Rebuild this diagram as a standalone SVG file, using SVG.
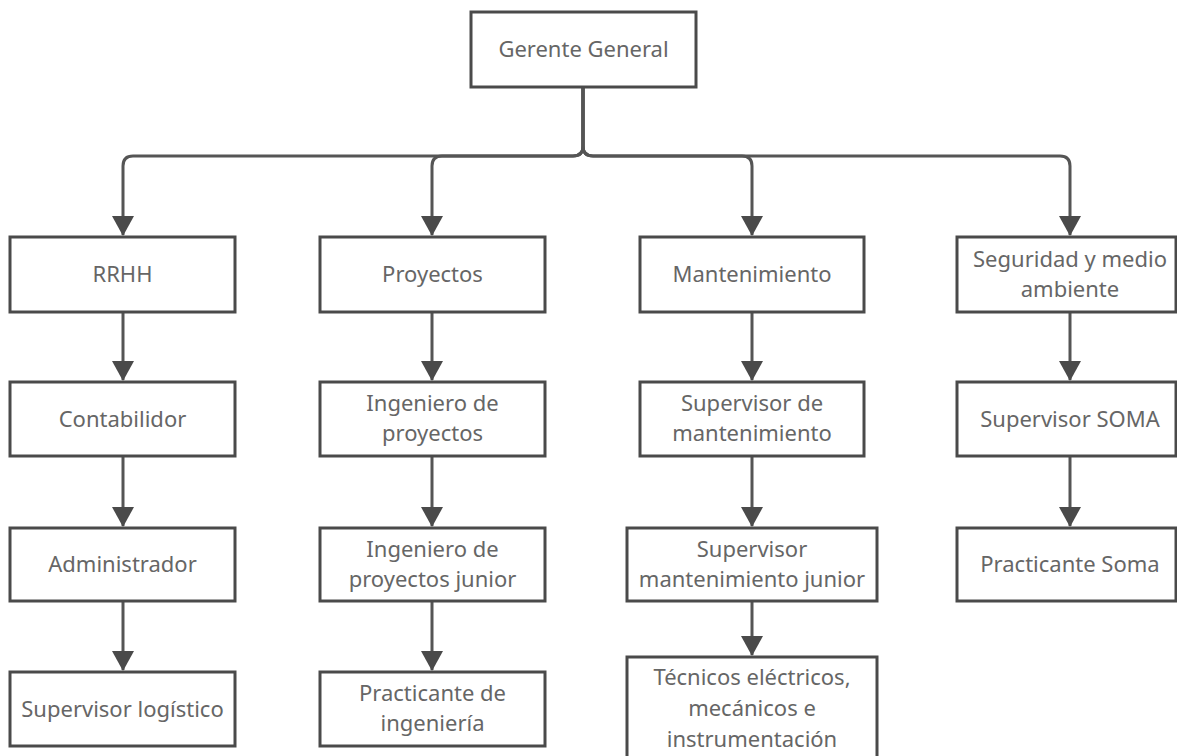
<svg xmlns="http://www.w3.org/2000/svg" width="1177" height="756" viewBox="0 0 1177 756">
<style>
.box{fill:#fff;stroke:#4a4a4a;stroke-width:3}
.t{font-family:"Noto Sans","Open Sans",sans-serif;font-size:22px;fill:#666;text-anchor:middle}
.c{fill:none;stroke:#555;stroke-width:3}
</style>
<defs>
<marker id="ah" markerUnits="userSpaceOnUse" markerWidth="24" markerHeight="22" refX="12" refY="20" orient="0" viewBox="0 0 24 22">
<path d="M1,1 L23,1 L12,21 Z" fill="#4a4a4a"/>
</marker>
</defs>
<rect width="1177" height="756" fill="#fff"/>
<g id="connectors">
<path class="c" d="M583,87 V146 Q583,156 573,156 H133 Q123,156 123,166 V235" marker-end="url(#ah)"/>
<path class="c" d="M583,87 V146 Q583,156 573,156 H442 Q432,156 432,166 V235" marker-end="url(#ah)"/>
<path class="c" d="M583,87 V146 Q583,156 593,156 H742 Q752,156 752,166 V235" marker-end="url(#ah)"/>
<path class="c" d="M583,87 V146 Q583,156 593,156 H1060 Q1070,156 1070,166 V235" marker-end="url(#ah)"/>
<path class="c" d="M123,312 V380" marker-end="url(#ah)"/>
<path class="c" d="M123,456 V526" marker-end="url(#ah)"/>
<path class="c" d="M123,601 V670" marker-end="url(#ah)"/>
<path class="c" d="M432,312 V380" marker-end="url(#ah)"/>
<path class="c" d="M432,456 V526" marker-end="url(#ah)"/>
<path class="c" d="M432,601 V670" marker-end="url(#ah)"/>
<path class="c" d="M752,312 V380" marker-end="url(#ah)"/>
<path class="c" d="M752,456 V526" marker-end="url(#ah)"/>
<path class="c" d="M752,601 V655" marker-end="url(#ah)"/>
<path class="c" d="M1070,312 V380" marker-end="url(#ah)"/>
<path class="c" d="M1070,456 V526" marker-end="url(#ah)"/>
</g>
<g id="gerente"><rect class="box" x="471" y="12" width="225" height="75"/><text class="t" x="583.5" y="57">Gerente General</text></g>
<g id="rrhh"><rect class="box" x="10" y="237" width="225" height="75"/><text class="t" x="122.5" y="282">RRHH</text></g>
<g id="proyectos"><rect class="box" x="320" y="237" width="225" height="75"/><text class="t" x="432.5" y="282">Proyectos</text></g>
<g id="mantenimiento"><rect class="box" x="640" y="237" width="224" height="75"/><text class="t" x="752" y="282">Mantenimiento</text></g>
<g id="seguridad"><rect class="box" x="957" y="237" width="219" height="75"/><text class="t" x="1070" y="267">Seguridad y medio</text><text class="t" x="1070" y="297">ambiente</text></g>
<g id="contabilidor"><rect class="box" x="10" y="382" width="225" height="74"/><text class="t" x="122.5" y="427">Contabilidor</text></g>
<g id="ing-proyectos"><rect class="box" x="320" y="382" width="225" height="74"/><text class="t" x="432.5" y="411">Ingeniero de</text><text class="t" x="432.5" y="441">proyectos</text></g>
<g id="sup-mant"><rect class="box" x="640" y="382" width="224" height="74"/><text class="t" x="752" y="411">Supervisor de</text><text class="t" x="752" y="441">mantenimiento</text></g>
<g id="sup-soma"><rect class="box" x="957" y="382" width="219" height="74"/><text class="t" x="1070" y="427">Supervisor SOMA</text></g>
<g id="administrador"><rect class="box" x="10" y="528" width="225" height="73"/><text class="t" x="122.5" y="572">Administrador</text></g>
<g id="ing-junior"><rect class="box" x="320" y="528" width="225" height="73"/><text class="t" x="432.5" y="557">Ingeniero de</text><text class="t" x="432.5" y="587">proyectos junior</text></g>
<g id="sup-mant-junior"><rect class="box" x="627" y="528" width="250" height="73"/><text class="t" x="752" y="557">Supervisor</text><text class="t" x="752" y="587">mantenimiento junior</text></g>
<g id="practicante-soma"><rect class="box" x="957" y="528" width="219" height="73"/><text class="t" x="1070" y="572">Practicante Soma</text></g>
<g id="sup-logistico"><rect class="box" x="10" y="672" width="225" height="74"/><text class="t" x="122.5" y="717">Supervisor logístico</text></g>
<g id="practicante-ing"><rect class="box" x="320" y="672" width="225" height="74"/><text class="t" x="432.5" y="701">Practicante de</text><text class="t" x="432.5" y="731">ingeniería</text></g>
<g id="tecnicos"><rect class="box" x="627" y="657" width="250" height="105"/><text class="t" x="752" y="685">Técnicos eléctricos,</text><text class="t" x="752" y="716">mecánicos e</text><text class="t" x="752" y="747">instrumentación</text></g>
</svg>
